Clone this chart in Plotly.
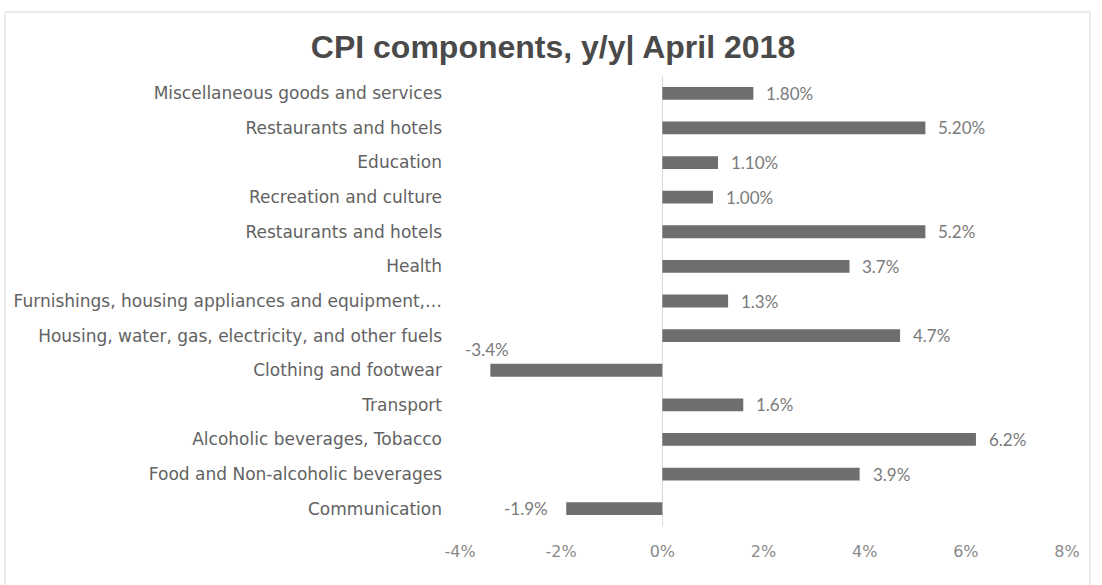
import plotly.graph_objects as go

# CPI components, year-over-year change, April 2018 (bottom to top)
categories = [
    "Communication",
    "Food and Non-alcoholic beverages",
    "Alcoholic beverages, Tobacco",
    "Transport",
    "Clothing and footwear",
    "Housing, water, gas, electricity, and other fuels",
    "Furnishings, housing appliances and equipment,\u2026",
    "Health",
    "Restaurants and hotels",
    "Recreation and culture",
    "Education",
    "Restaurants and hotels",
    "Miscellaneous goods and services",
]
values = [-1.9, 3.9, 6.2, 1.6, -3.4, 4.7, 1.3, 3.7, 5.2, 1.0, 1.1, 5.2, 1.8]
label_decimals = [1, 1, 1, 1, 1, 1, 1, 1, 1, 2, 2, 2, 2]
x_ticks = [-4, -2, 0, 2, 4, 6, 8]

W, H = 1102, 585
L, R, T, B = 460, 35, 76, 59

rows = list(range(len(categories)))

fig = go.Figure(
    go.Bar(
        x=values,
        y=rows,
        orientation="h",
        width=0.37,
        marker=dict(color="#6e6e6e", line=dict(width=0)),
        hoverinfo="x+y",
    )
)

# value labels beside each bar end
for r, v, d in zip(rows, values, label_decimals):
    txt = f"{v:.{d}f}%"
    if v >= 0:
        fig.add_annotation(x=v, y=r, text=txt, xanchor="left", xshift=11,
                           showarrow=False)
    elif v < -3:
        fig.add_annotation(x=v, y=r, text=txt, xanchor="center", yshift=21,
                           xshift=-3, showarrow=False)
    else:
        fig.add_annotation(x=v, y=r, text=txt, xanchor="right", xshift=-16,
                           showarrow=False)

fig.update_annotations(font=dict(family="Lato, Open Sans, sans-serif",
                                 size=17, color="#7a7a7a"))

# light outer frame
pw, ph = W - L - R, H - T - B
fig.add_shape(type="rect", xref="paper", yref="paper",
              x0=(5 - L) / pw, x1=(1090 - L) / pw,
              y0=(H - B - 590) / ph, y1=(H - B - 12) / ph,
              line=dict(color="#d9d9d9", width=1), layer="below")

fig.update_layout(
    width=W, height=H,
    margin=dict(l=L, r=R, t=T, b=B),
    paper_bgcolor="white", plot_bgcolor="white",
    showlegend=False,
    title=dict(text="<b>CPI components, y/y| April 2018</b>",
               x=553 / W, xanchor="center", y=1 - 47 / H, yanchor="middle",
               font=dict(family="Liberation Sans, Arial",
                         size=32, color="#4a4a4a")),
    xaxis=dict(range=[-4, 8], tickvals=x_ticks,
               ticktext=[f"{t}%" for t in x_ticks],
               showgrid=False, zeroline=True, zerolinecolor="#d9d9d9",
               zerolinewidth=1, showline=False, ticks="",
               ticklabelstandoff=14, automargin=False,
               tickfont=dict(family="DejaVu Sans, sans-serif", size=16,
                             color="#8a8a8a")),
    yaxis=dict(range=[-0.5, 12.5], tickvals=rows, ticktext=categories,
               showgrid=False, zeroline=False, showline=False, ticks="",
               ticklabelstandoff=17, automargin=False,
               tickfont=dict(family="DejaVu Sans, sans-serif", size=17,
                             color="#626262")),
)

fig.write_html("out.html")
